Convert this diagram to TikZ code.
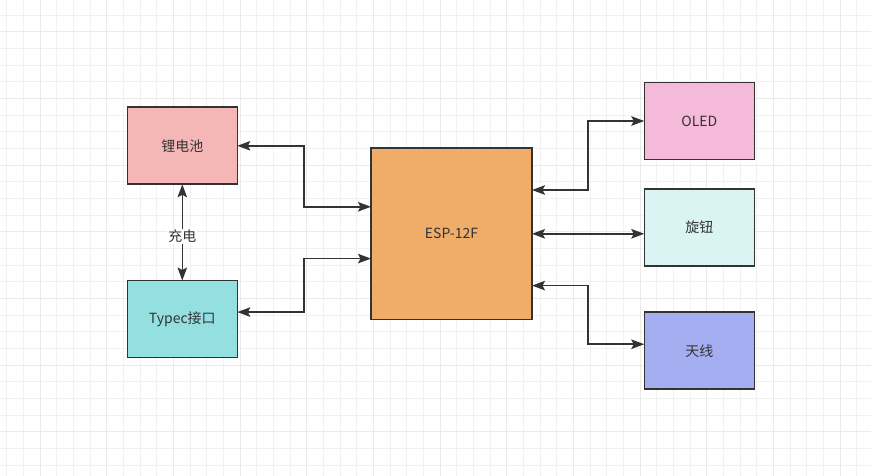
\documentclass[tikz,border=0pt]{standalone}
\usepackage{fontspec}
\setmainfont{Noto Sans CJK SC}
\usetikzlibrary{arrows.meta,calc,positioning}
\definecolor{Ink}{HTML}{333333}
\definecolor{GridMinor}{HTML}{F1F1F1}
\definecolor{GridMajor}{HTML}{EAEAEA}
\definecolor{Battery}{HTML}{F4B7B6}
\definecolor{Port}{HTML}{94DFE0}
\definecolor{Chip}{HTML}{F0AC69}
\definecolor{Screen}{HTML}{F5B9DA}
\definecolor{Knob}{HTML}{DAF3F3}
\definecolor{Aerial}{HTML}{A4AEF1}
\begin{document}
\begin{tikzpicture}[x=1pt,y=-1pt,font=\fontsize{14}{16}\selectfont,>={Stealth[length=13pt,width=9.5pt,inset=2.5pt]},
    box/.style={draw=Ink,line width=1.6pt,text=Ink,minimum width=110pt,minimum height=77pt,inner sep=0pt,outer sep=0pt},
    link/.style={draw=Ink,line width=1.6pt,<->}]
        \useasboundingbox (0,0) rectangle (871,476);
        % background grid
        \foreach \k in {-2,...,52} \draw[GridMinor,line width=.9pt] ({40+\k*50/3},0)--({40+\k*50/3},476);
        \foreach \k in {-2,...,28} \draw[GridMinor,line width=.9pt] (0,{31.67+\k*50/3})--(871,{31.67+\k*50/3});
        \foreach \k in {-1,...,13} \draw[GridMajor,line width=1pt] ({40+\k*200/3},0)--({40+\k*200/3},476);
        \foreach \k in {-1,...,7} \draw[GridMajor,line width=1pt] (0,{31.67+\k*200/3})--(871,{31.67+\k*200/3});
        % blocks
        \node[box,fill=Battery] (bat) at (182.3,145.8) {锂电池};
        \node[box,fill=Port] (typec) at (182.3,319) {Typec接口};
        \node[box,fill=Chip,minimum width=161pt,minimum height=171pt] (esp) at (451.5,233.8) {ESP-12F};
        \node[box,fill=Screen] (oled) at (699.3,121) {OLED};
        \node[box,fill=Knob] (knob) at (699.3,227.3) {旋钮};
        \node[box,fill=Aerial] (ant) at (699.3,350.7) {天线};
        \coordinate (lbus) at ($(bat.east)!.5!(esp.west)$);
        \coordinate (rbus) at ($(esp.east)!.5!(knob.west)$);
        \coordinate (espL1) at ($(esp.north west)!.342!(esp.south west)$);
        \coordinate (espL2) at ($(esp.north west)!.645!(esp.south west)$);
        \coordinate (espR1) at ($(esp.north east)!.244!(esp.south east)$);
        \coordinate (espR3) at ($(esp.north east)!.803!(esp.south east)$);
        \coordinate (typecIn) at ($(typec.north east)!.41!(typec.south east)$);
        \coordinate (antIn) at ($(ant.north west)!.416!(ant.south west)$);
        % links
        \draw[link] (bat.east) -| (lbus |- espL1) -- (espL1);
        \draw[link] (typecIn) -| (lbus |- espL2) -- (espL2);
        \draw[link] (espR1) -| (rbus |- oled.west) -- (oled.west);
        \draw[link] (esp.east) -- (esp.east-|knob.west);
        \draw[link] (espR3) -| (rbus |- antIn) -- (antIn);
        \draw[link] (bat.south) -- (typec.north) node[pos=.54,fill=white,inner sep=1pt,text=Ink] (charge) {充电};
      \end{tikzpicture}
\end{document}
